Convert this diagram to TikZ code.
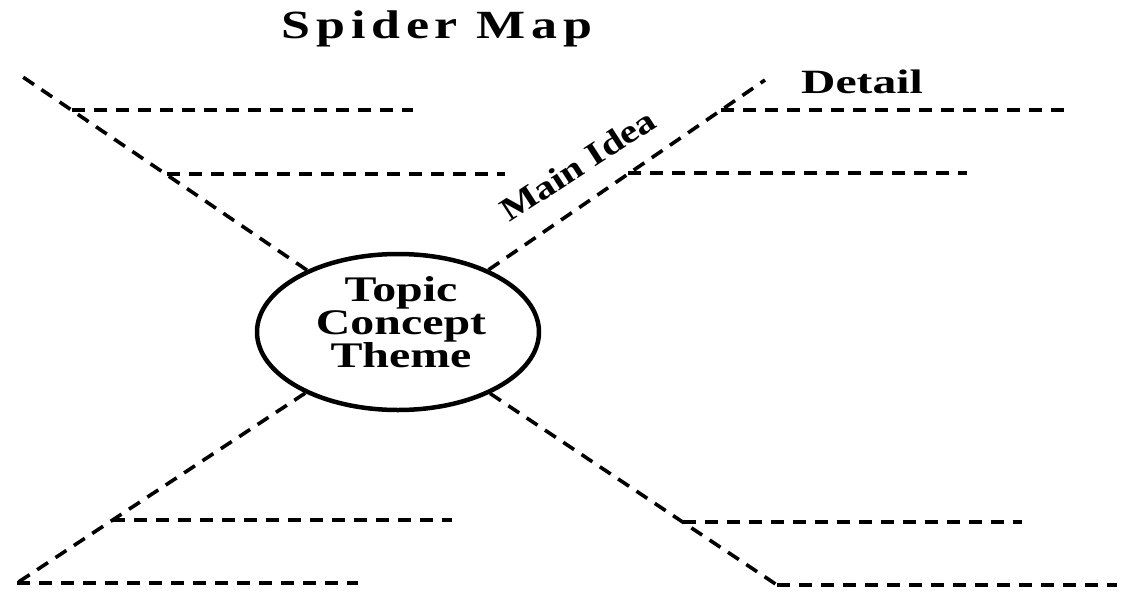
\documentclass[tikz,border=0pt]{standalone}
\usepackage{fontspec}
\setmainfont{Liberation Serif}
\newfontfamily\titlefont[LetterSpace=11]{Liberation Serif}
\usetikzlibrary{shapes.geometric}
\tikzset{
  leg/.style={line width=3.6pt, dash pattern=on 13pt off 9pt},
  hub/.style={draw, ellipse, line width=4.5pt, inner sep=0pt, minimum width=282pt, minimum height=156pt},
  lbl/.style={inner sep=0pt, anchor=base},
}
\begin{document}
\begin{tikzpicture}[x=1pt,y=-1pt]
\useasboundingbox (0,0) rectangle (1121,597);
% hub
\node[hub] (topic) at (398,332) {};
\node[inner sep=0pt, align=center, font=\fontsize{36}{33}\selectfont\bfseries] (topictext) at (401,322)
  {\scalebox{1.33}[1]{Topic}\\\scalebox{1.33}[1]{Concept}\\\scalebox{1.33}[1]{Theme}};
% outer ends of the legs
\coordinate (ul) at (17,73);
\coordinate (ur) at (765,80);
\coordinate (ll) at (17,583);
\coordinate (lr) at (777,585);
% junctions
\coordinate (ul1) at (72,110);   \coordinate (ul1e) at (413,110);
\coordinate (ul2) at (167,174);  \coordinate (ul2e) at (505,174);
\coordinate (ur1) at (721,110);  \coordinate (ur1e) at (1065,110);
\coordinate (ur2) at (628,173);  \coordinate (ur2e) at (967,173);
\coordinate (ll1) at (112,520);  \coordinate (ll1e) at (452,520);
\coordinate (ll2e) at (358,583);
\coordinate (lr1) at (683,522);  \coordinate (lr1e) at (1022,522);
\coordinate (lr2e) at (1117,585);
% legs
\draw[leg] (topic) -- (ul);
\draw[leg] (topic) -- (ur);
\draw[leg] (topic) -- (ll);
\draw[leg] (topic) -- (lr);
% details
\draw[leg] (ul1) -- (ul1e);
\draw[leg] (ul2) -- (ul2e);
\draw[leg] (ur1) -- (ur1e);
\draw[leg] (ur2) -- (ur2e);
\draw[leg] (ll1) -- (ll1e);
\draw[leg] (ll) -- (ll2e);
\draw[leg] (lr1) -- (lr1e);
\draw[leg] (lr) -- (lr2e);
% labels
\node[lbl] (title) at (437,38) {\scalebox{1.3}[1]{\titlefont\fontsize{40}{40}\selectfont\bfseries Spider Map}};
\node[lbl] (detail) at (862,93) {\scalebox{1.4}[1]{\fontsize{34}{34}\selectfont\bfseries Detail}};
\node[inner sep=0pt, rotate=33] (mainidea) at (578,165) {\scalebox{1.22}[1]{\fontsize{33}{33}\selectfont\bfseries Main Idea}};
\end{tikzpicture}
\end{document}
